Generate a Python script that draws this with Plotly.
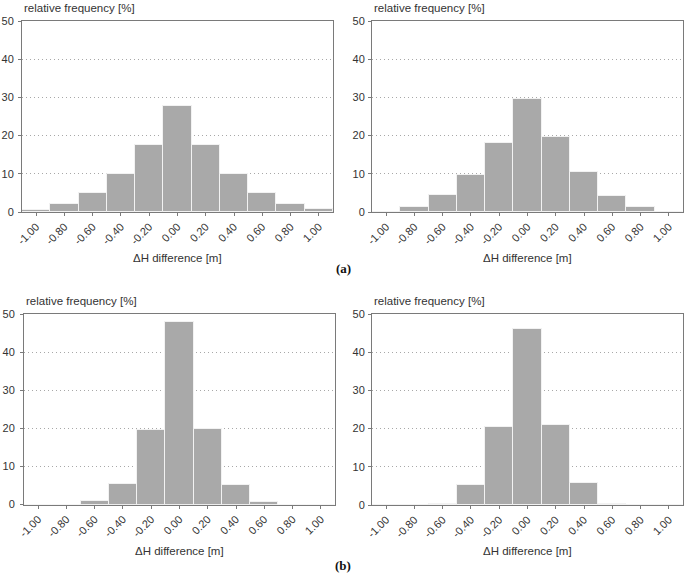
import plotly.graph_objects as go

bin_centers = [-1.0, -0.8, -0.6, -0.4, -0.2, 0.0, 0.2, 0.4, 0.6, 0.8, 1.0]
tick_labels = ["-1.00", "-0.80", "-0.60", "-0.40", "-0.20", "0.00", "0.20", "0.40", "0.60", "0.80", "1.00"]
freq_a_left = [0.6, 2.0, 5.0, 10.0, 17.5, 27.8, 17.6, 10.0, 5.0, 2.1, 0.7]
freq_a_right = [0.0, 1.3, 4.4, 9.8, 18.1, 29.6, 19.7, 10.5, 4.2, 1.3, 0.0]
freq_b_left = [0.0, 0.0, 0.8, 5.4, 19.5, 47.8, 19.7, 5.2, 0.6, 0.0, 0.0]
freq_b_right = [0.0, 0.0, 0.3, 5.3, 20.3, 46.2, 20.9, 5.7, 0.3, 0.0, 0.0]
y_title = "relative frequency [%]"
x_title = "ΔH difference [m]"
panel_labels = ["(a)", "(b)"]

W, H = 685, 576
FONT = "Liberation Sans, Arial, sans-serif"
TXT = "#333333"
BAR = "#a9a9a9"
AXC = "#7a7a7a"


def px(x):
    return x / W


def py(y):
    return 1 - y / H


panels = [
    (freq_a_left, (22, 333), (21, 212), 2),
    (freq_a_right, (372, 683), (21, 212), 1),
    (freq_b_left, (24, 335), (314, 504.5), 3),
    (freq_b_right, (372, 683), (314, 505), 1),
]

fig = go.Figure()
layout = {}
annotations = []
for i, (vals, (x0, x1), (y0, y1), standoff) in enumerate(panels):
    n = "" if i == 0 else str(i + 1)
    fig.add_trace(go.Bar(
        x=bin_centers, y=vals, width=0.2,
        marker=dict(color=BAR, line=dict(color="#f2f2f2", width=1)),
        xaxis="x" + n, yaxis="y" + n, showlegend=False,
    ))
    layout["xaxis" + n] = dict(
        domain=[px(x0), px(x1)], anchor="y" + n, range=[-1.1, 1.1],
        tickvals=bin_centers, ticktext=tick_labels, tickangle=-45,
        ticks="outside", ticklen=3, tickcolor=AXC,
        showline=True, linecolor=AXC, linewidth=1, mirror=True,
        showgrid=False, zeroline=False, automargin=False,
        tickfont=dict(family=FONT, size=11, color=TXT),
    )
    layout["yaxis" + n] = dict(
        domain=[py(y1), py(y0)], anchor="x" + n, range=[0, 50],
        tickvals=[0, 10, 20, 30, 40, 50],
        ticks="outside", ticklen=3, tickcolor=AXC, ticklabelstandoff=standoff,
        showline=True, linecolor=AXC, linewidth=1, mirror=True,
        showgrid=True, gridcolor="#a8a8a8", griddash="1px,3px", gridwidth=1,
        zeroline=False, automargin=False,
        tickfont=dict(family=FONT, size=11, color=TXT),
    )
    annotations.append(dict(
        text=y_title, xref="paper", yref="paper",
        x=px(x0), y=py(y0 - 5), xanchor="left", yanchor="bottom",
        showarrow=False, font=dict(family=FONT, size=11.5, color=TXT),
    ))
    annotations.append(dict(
        text=x_title, xref="paper", yref="paper",
        x=px((x0 + x1) / 2), y=py(y1 + 46), xanchor="center", yanchor="middle",
        showarrow=False, font=dict(family=FONT, size=11.5, color=TXT),
    ))

annotations.append(dict(
    text="<b>" + panel_labels[0] + "</b>", xref="paper", yref="paper",
    x=px(343), y=py(268), xanchor="center", yanchor="middle",
    showarrow=False, font=dict(family="Liberation Serif, Times New Roman, serif", size=13, color="#111111"),
))
annotations.append(dict(
    text="<b>" + panel_labels[1] + "</b>", xref="paper", yref="paper",
    x=px(343), y=py(565), xanchor="center", yanchor="middle",
    showarrow=False, font=dict(family="Liberation Serif, Times New Roman, serif", size=13, color="#111111"),
))

fig.update_layout(
    width=W, height=H, margin=dict(l=0, r=0, t=0, b=0),
    paper_bgcolor="white", plot_bgcolor="white",
    bargap=0, annotations=annotations, **layout,
)
fig.write_html("out.html", config={"displayModeBar": False},
               post_script="document.body.style.margin='0';")
